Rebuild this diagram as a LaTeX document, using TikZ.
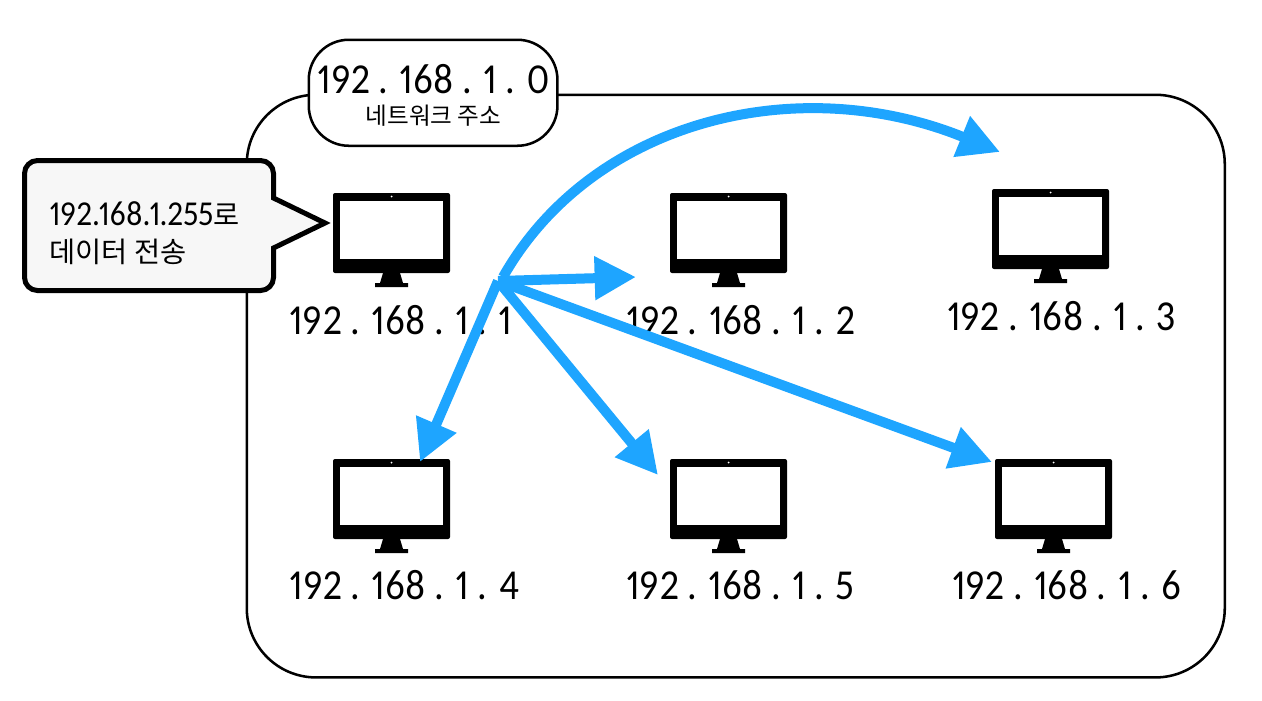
\documentclass[tikz,border=0pt]{standalone}
\usepackage{fontspec}
\setmainfont{Noto Sans CJK KR}
\newfontfamily\ipfont[Numbers=Proportional,FakeStretch=0.9]{Carlito}
\usetikzlibrary{arrows.meta}
\definecolor{flow}{HTML}{1EA5FF}
\definecolor{bubble}{HTML}{F7F7F7}
\tikzset{
  x=0.75pt,y=-0.75pt,
  iplabel/.style={inner sep=0pt,font=\ipfont\fontsize{32}{34}\selectfont,anchor=center},
  bubbletext/.style={inner sep=0pt,font=\fontsize{21.3}{28}\selectfont,align=left,anchor=west},
  flowarrow/.style={draw=flow,line width=7.5pt,-{Triangle[length=31pt,width=31pt]}},
  monitor/.pic={
    \fill[rounded corners=1.5pt] (0,0) rectangle (117,80);
    \fill[white] (7,8) rectangle (110,66);
    \fill[white] (58.5,3.5) circle (1);
    \fill (50,80) -- (67,80) -- (70,90) -- (75,90) -- (75,94) -- (42,94) -- (42,90) -- (47,90) -- cycle;
  }
}
\begin{document}
\begin{tikzpicture}
\useasboundingbox (0,0) rectangle (1262,700);
\node[draw=black,line width=1.9pt,rounded corners=52pt,minimum width=733.5pt,minimum height=437pt,inner sep=0pt,anchor=north west] (net) at (245.5,93.5) {};
\node[draw=black,fill=white,line width=1.9pt,rounded corners=30pt,minimum width=186.5pt,minimum height=79.5pt,inner sep=0pt,anchor=north west] (tag) at (307.5,38.5) {};
\node[iplabel] (tagip) at (433.5,79.5) {192 . 168 . 1 . 0};
\node[inner sep=0pt,font=\fontsize{17.7}{20}\selectfont] (tagname) at (433.5,116) {네트워크 주소};
\path (333,193) pic {monitor};
\path (670,193) pic {monitor};
\path (992,189) pic {monitor};
\path (333,459) pic {monitor};
\path (670,459) pic {monitor};
\path (995,459) pic {monitor};
\node[iplabel] (ip1) at (401,320) {192 . 168 . 1 . 1};
\node[iplabel] (ip2) at (741,320) {192 . 168 . 1 . 2};
\node[iplabel] (ip3) at (1061.5,316) {192 . 168 . 1 . 3};
\node[iplabel] (ip4) at (404.5,585) {192 . 168 . 1 . 4};
\node[iplabel] (ip5) at (740.5,585) {192 . 168 . 1 . 5};
\node[iplabel] (ip6) at (1067,585) {192 . 168 . 1 . 6};
\draw[fill=bubble,line width=3.75pt,line join=miter]
  (273.5,198) -- (325,223) -- (273.5,248) -- (273.5,277.5)
  arc[start angle=0,end angle=90,radius=13] -- (37.5,290.5)
  arc[start angle=90,end angle=180,radius=13] -- (24.5,173.5)
  arc[start angle=180,end angle=270,radius=13] -- (260.5,160.5)
  arc[start angle=270,end angle=360,radius=13] -- cycle;
\node[bubbletext] (msg) at (49,233) {{\ipfont\fontsize{26.2}{28}\selectfont 192.168.1.255}로\\데이터 전송};
\coordinate (hub) at (498,281);
\coordinate (hubtop) at (503,277);
\coordinate (tip2) at (636,277);
\coordinate (tip3) at (1000,152);
\coordinate (tip4) at (420,462);
\coordinate (tip5) at (658,475);
\coordinate (tip6) at (992,462);
\draw[flowarrow] (hub) -- (tip2);
\draw[flowarrow] (hub) -- (tip4);
\draw[flowarrow] (hub) -- (tip5);
\draw[flowarrow] (hub) -- (tip6);
\draw[flowarrow] (hubtop) .. controls (592,120) and (798,70) .. (tip3);
\end{tikzpicture}
\end{document}
